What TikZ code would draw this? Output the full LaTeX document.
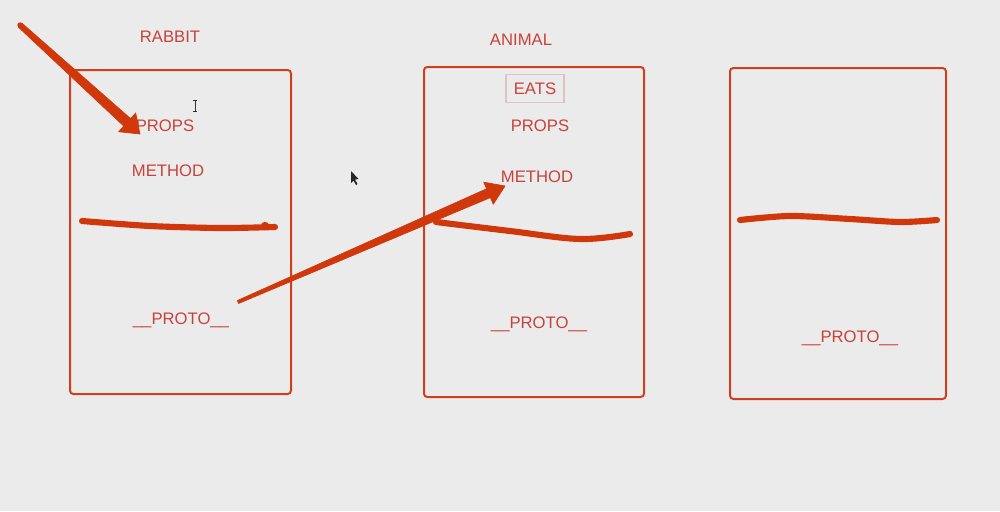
\documentclass[tikz,border=0pt]{standalone}
\usepackage{fontspec}
\setmainfont{Liberation Sans}
\usetikzlibrary{calc}
\definecolor{bg}{RGB}{235,235,235}
\definecolor{boxc}{RGB}{208,62,32}
\definecolor{txtc}{RGB}{200,66,60}
\definecolor{strokec}{RGB}{208,56,12}
\definecolor{eatsc}{RGB}{218,196,196}
\tikzset{
  objbox/.style={draw=boxc, line width=1.5pt, rounded corners=2.5pt},
  lbl/.style={text=txtc, font=\fontsize{12.5pt}{14pt}\selectfont, inner sep=1pt},
  pen/.style={draw=strokec, line width=4.6pt, line cap=round, line join=round},
  ink/.style={fill=strokec, draw=strokec, line width=0.5pt, line join=round},
}
\begin{document}
\begin{tikzpicture}[x=0.75pt,y=-0.75pt]
\fill[bg] (0,0) rectangle (1000,511);
\useasboundingbox (0,0) rectangle (1000,511);

% boxes
\draw[objbox] (70,70) rectangle (291,394);
\draw[objbox] (424,67) rectangle (644,397);
\draw[objbox] (730,68) rectangle (946,399);

% labels
\node[lbl] (rabbit) at (170,37) {RABBIT};
\node[lbl] (props1) at (165,126) {PROPS};
\node[lbl] (method1) at (168,171) {METHOD};
\node[lbl] (proto1) at (181,320) {\_\_PROTO\_\_};

\node[lbl] (animal) at (521,40) {ANIMAL};
\node[lbl, draw=eatsc, line width=0.9pt, minimum width=43.5pt, minimum height=21pt] (eats) at (535,88.5) {EATS};
\node[lbl] (props2) at (540,126) {PROPS};
\node[lbl] (method2) at (537,177) {METHOD};
\node[lbl] (proto2) at (539,324) {\_\_PROTO\_\_};

\node[lbl] (proto3) at (850,338) {\_\_PROTO\_\_};

% freehand strokes
\draw[pen] plot[smooth] coordinates {(82,221) (150,226) (220,228) (275,227)};
\fill[strokec] (265,226) circle (4.2);
\draw[pen] plot[smooth, tension=0.6] coordinates {(436,222) (510,231) (580,239) (630,234)};
\draw[pen] plot[smooth] coordinates {(740,220) (790,216) (850,219) (900,222) (937,220)};

% arrow 1 (tapered)
\coordinate (a1s) at (20,25);
\coordinate (a1t) at (140,134);
\coordinate (a1b) at ($(a1t)!13pt!(a1s)$);
\filldraw[ink]
  ($(a1s)!2pt!90:(a1t)$) -- ($(a1b)!3.8pt!-90:(a1s)$) -- ($(a1b)!9.5pt!-90:(a1s)$)
  -- (a1t) -- ($(a1b)!9.5pt!90:(a1s)$) -- ($(a1b)!3.8pt!90:(a1s)$)
  -- ($(a1s)!2pt!-90:(a1t)$) -- cycle;
\fill[strokec] (a1s) circle (2.7);

% arrow 2 (tapered)
\coordinate (a2s) at (238,302);
\coordinate (a2t) at (505,186);
\coordinate (a2b) at ($(a2t)!13.5pt!(a2s)$);
\filldraw[ink]
  ($(a2s)!1.2pt!90:(a2t)$) -- ($(a2b)!3.6pt!-90:(a2s)$) -- ($(a2b)!9pt!-90:(a2s)$)
  -- (a2t) -- ($(a2b)!9pt!90:(a2s)$) -- ($(a2b)!3.6pt!90:(a2s)$)
  -- ($(a2s)!1.2pt!-90:(a2t)$) -- cycle;

% cursors
\draw[black!80, line width=0.6pt] (195,100) -- (195,111) (193,100) -- (197,100) (193,111) -- (197,111);
\fill[black!85] (351,171) -- (351,183) -- (353.5,180.5) -- (356,185) -- (357.5,184) -- (355,179.5) -- (358.5,179) -- cycle;
\end{tikzpicture}
\end{document}
